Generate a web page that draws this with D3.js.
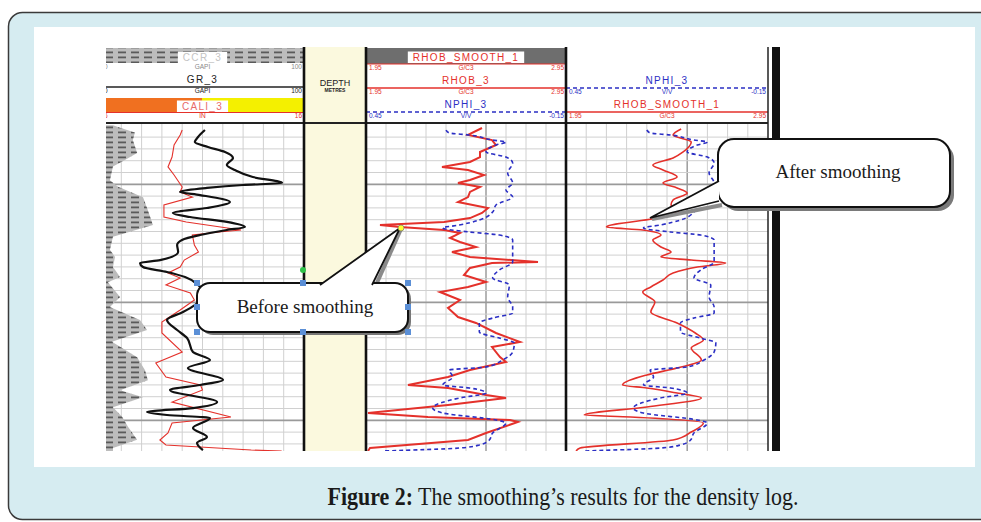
<!DOCTYPE html>
<html>
<head>
<meta charset="utf-8">
<script src="https://cdn.jsdelivr.net/npm/d3@7"></script>
<style>
  body { margin: 0; background: #fff; }
  svg { display: block; }
  text { font-family: "Liberation Sans", Arial, sans-serif; }
</style>
</head>
<body>
<div id="chart"></div>
<script>
// Log curves: [depth (m), value] pairs
var ccrCurve = [[1000, 5.9], [1000.2, 9.4], [1000.6, 16.7], [1001.25, 15.7], [1002.35, 17.8], [1002.95, 11.8], [1003.5, 5.9],
    [1004.65, 4.4], [1005.2, 8.4], [1006.1, 20.7], [1007.2, 23.1], [1008.45, 25.6], [1009.45, 5.9], [1010.55, 4.4],
    [1011.15, 6.9], [1012.0, 5.9], [1012.85, 9.4], [1013.3, 3.4], [1014.55, 9.4], [1015.4, 4.4], [1016.5, 19.2],
    [1017.35, 22.7], [1018.35, 5.4], [1019.65, 17.8], [1020.75, 21.7], [1021.6, 23.1], [1022.45, 9.4], [1023.05, 20.7],
    [1023.9, 5.9], [1024.7, 10.4], [1025.55, 13.3], [1026.65, 17.8], [1027.35, 5.9], [1027.6, 5.9]];

var grCurve = [[1000.4, 51.2], [1000.99, 47.8], [1001.42, 46.2], [1001.84, 52.7], [1002.26, 61.1], [1002.77, 65], [1003.36, 62],
    [1003.79, 66], [1004.38, 74.8], [1004.89, 89.2], [1005.06, 70], [1005.31, 52.2], [1005.65, 38.9], [1005.91, 48.8],
    [1006.5, 63.5], [1007.01, 52.2], [1007.43, 35.4], [1007.77, 43.8], [1008.19, 62], [1008.62, 70.9], [1008.87, 62],
    [1009.3, 48.8], [1009.72, 39.9], [1010.14, 37.5], [1010.74, 38], [1011.42, 29.1], [1011.67, 19.2], [1012.01, 20.7],
    [1012.43, 32.5], [1012.86, 41.4], [1013.53, 47.8], [1014.38, 51.2], [1015.23, 46.2], [1015.82, 40.4], [1016.5, 32.5],
    [1017.35, 37.5], [1018.03, 42.4], [1019.21, 45.3], [1019.89, 53.7], [1020.57, 42.8], [1021.58, 60.1], [1022.01, 48.8],
    [1022.43, 34], [1023.45, 57.2], [1023.96, 45.3], [1024.3, 22.7], [1024.55, 32.5], [1024.81, 53.7], [1025.65, 45.3],
    [1026.41, 52.2], [1026.92, 47.3], [1027.52, 50.2]];

var caliCurve = [[1000.4, 10.0], [1000.82, 9.9], [1001.67, 9.6], [1002.69, 9.5], [1003.53, 9.3], [1004.21, 9.6], [1005.23, 10.0],
    [1005.65, 9.9], [1006.08, 10.5], [1006.75, 9.1], [1007.77, 9.1], [1008.19, 10.2], [1008.87, 12.9], [1009.04, 11.8],
    [1009.3, 10.5], [1010.14, 10.6], [1010.74, 10.8], [1011.42, 10.1], [1012.01, 9.9], [1012.52, 9.3], [1012.94, 9.9],
    [1013.53, 9.2], [1014.21, 10.4], [1014.81, 10.6], [1015.65, 9.9], [1016.67, 9.0], [1017.6, 9.0], [1019.21, 10.0],
    [1020.14, 8.7], [1021.33, 9.2], [1022.01, 10.9], [1022.43, 11.0], [1023.45, 9.5], [1024.72, 12.4], [1025.23, 9.5],
    [1026.07, 9.3], [1026.67, 8.9], [1027.09, 9.2], [1027.52, 13.4], [1027.6, 14.9]];

var rhobRaw = [[1000.23, 2.53], [1000.82, 2.46], [1001.25, 2.58], [1001.67, 2.60], [1002.26, 2.52], [1002.69, 2.52], [1003.11, 2.47],
    [1003.53, 2.33], [1003.79, 2.46], [1004.21, 2.54], [1004.64, 2.47], [1004.89, 2.41], [1005.23, 2.52], [1005.65, 2.47],
    [1006.08, 2.46], [1006.5, 2.41], [1007.01, 2.56], [1007.43, 2.53], [1007.86, 2.47], [1008.19, 2.34], [1008.45, 2.02],
    [1008.62, 2.12], [1008.87, 2.34], [1009.13, 2.42], [1009.55, 2.37], [1009.89, 2.42], [1010.31, 2.50], [1010.74, 2.38],
    [1011.16, 2.47], [1011.58, 2.81], [1011.67, 2.58], [1012.09, 2.47], [1012.69, 2.44], [1013.28, 2.55], [1013.7, 2.46],
    [1014.13, 2.32], [1014.81, 2.42], [1015.48, 2.36], [1016.25, 2.41], [1016.75, 2.50], [1017.6, 2.60], [1018.36, 2.72],
    [1018.79, 2.58], [1019.64, 2.62], [1020.06, 2.65], [1020.74, 2.47], [1021.33, 2.36], [1022.01, 2.16], [1022.26, 2.36],
    [1022.86, 2.55], [1023.11, 2.65], [1023.7, 2.36], [1024.38, 1.96], [1024.72, 2.26], [1024.97, 2.67], [1025.14, 2.71],
    [1026.07, 2.55], [1026.67, 2.46], [1027.35, 1.97], [1027.6, 1.96]];

var rhobSmooth = [[1000.31, 2.52], [1000.82, 2.48], [1001.42, 2.57], [1002.26, 2.53], [1002.77, 2.48], [1003.36, 2.38], [1003.79, 2.43],
    [1004.38, 2.50], [1004.89, 2.43], [1005.31, 2.50], [1005.74, 2.55], [1006.33, 2.48], [1006.75, 2.47], [1007.18, 2.51],
    [1007.77, 2.43], [1008.62, 2.15], [1008.87, 2.33], [1009.3, 2.42], [1009.72, 2.38], [1010.31, 2.42], [1010.74, 2.47],
    [1011.16, 2.42], [1011.42, 2.57], [1011.67, 2.74], [1012.01, 2.60], [1012.52, 2.48], [1013.11, 2.43], [1013.7, 2.37],
    [1014.13, 2.33], [1014.97, 2.39], [1015.82, 2.37], [1016.75, 2.50], [1017.6, 2.59], [1018.19, 2.63], [1018.87, 2.57],
    [1019.89, 2.62], [1020.57, 2.50], [1021.16, 2.35], [1022.01, 2.23], [1022.26, 2.35], [1022.69, 2.50], [1023.11, 2.62],
    [1023.87, 2.35], [1024.55, 2.04], [1024.72, 2.27], [1025.23, 2.63], [1025.99, 2.57], [1026.67, 2.48], [1027.35, 2.02],
    [1027.6, 2.00]];

var nphiCurve = [[1000.4, 0.21], [1000.65, 0.20], [1000.82, 0.14], [1001.25, 0.07], [1001.42, 0.03], [1001.67, 0.06], [1002.26, 0.09],
    [1002.69, 0.03], [1003.19, 0.01], [1004.04, 0.025], [1004.89, 0.01], [1005.48, 0.03], [1006.08, 0.01], [1006.75, 0.06],
    [1007.35, 0.07], [1008.03, 0.11], [1008.45, 0.17], [1008.7, 0.22], [1009.04, 0.14], [1009.3, 0.05], [1009.72, 0.01],
    [1010.57, 0.01], [1011.58, 0.01], [1012.26, 0.05], [1012.94, 0.07], [1013.53, 0.02], [1014.55, 0.025], [1015.4, 0.01],
    [1015.91, 0.01], [1016.33, 0.07], [1016.75, 0.11], [1017.52, 0.11], [1018.03, 0.05], [1018.45, 0.005], [1019.21, 0.01],
    [1019.89, 0.04], [1020.48, 0.09], [1020.74, 0.20], [1021.33, 0.19], [1022.01, 0.22], [1022.26, 0.14], [1022.69, 0.09],
    [1023.11, 0.17], [1023.96, 0.25], [1024.38, 0.22], [1024.97, 0.06], [1025.23, 0.03], [1026.07, 0.07], [1026.67, 0.08],
    [1027.09, 0.11], [1027.35, 0.17], [1027.6, 0.40]];

// Header labels
var grScale = ['0', 'GAPI', '100'];
var caliScale = ['6', 'IN', '16'];
var rhobScale = ['1.95', 'G/C3', '2.95'];
var nphiScale = ['0.45', 'V/V', '-0.15'];
var depthTitle = ['DEPTH', 'METRES'];
var notes = ['Before smoothing', 'After smoothing'];
var caption = ['Figure 2:', ' The smoothing\u2019s results for the density log.'];

var width = 981, height = 522;
var red = '#e4312b', blue = '#2b2fc4';

var svg = d3.select('#chart').append('svg')
    .attr('width', width)
    .attr('height', height);

var defs = svg.append('defs');

// dashed grey shading used by CCR
var pat = defs.append('pattern')
    .attr('id', 'ccrFill')
    .attr('patternUnits', 'userSpaceOnUse')
    .attr('width', 13).attr('height', 5);
pat.append('rect').attr('width', 13).attr('height', 5).attr('fill', '#bcbcbc');
pat.append('rect').attr('x', 1).attr('y', 1.5).attr('width', 8).attr('height', 1.8).attr('fill', '#5a5a5a');

// Page frame
svg.append('rect')
    .attr('x', 8.5).attr('y', 12.5)
    .attr('width', 1000).attr('height', 507)
    .attr('rx', 14)
    .attr('fill', '#d6ecf1')
    .attr('stroke', '#3a3a3a')
    .attr('stroke-width', 1.5);

svg.append('rect')
    .attr('x', 34).attr('y', 27)
    .attr('width', 941).attr('height', 440)
    .attr('fill', '#fff');

// Track layout
var t1 = [101, 304], tDepth = [304, 366], t3 = [366, 566], t4 = [566, 768];
var headTop = 47, bodyBottom = 451;

var y = d3.scaleLinear().domain([1000, 1027.6]).range([125.3, bodyBottom]);

var grX = d3.scaleLinear().domain([0, 100]).range(t1);
var caliX = d3.scaleLinear().domain([6, 16]).range(t1);
var rhobX3 = d3.scaleLinear().domain([1.95, 2.95]).range(t3);
var nphiX3 = d3.scaleLinear().domain([0.45, -0.15]).range(t3);
var rhobX4 = d3.scaleLinear().domain([1.95, 2.95]).range(t4);
var nphiX4 = d3.scaleLinear().domain([0.45, -0.15]).range(t4);

var log = svg.append('g');
defs.append('clipPath').attr('id', 'logClip').append('rect')
    .attr('x', 106).attr('y', 40).attr('width', 676).attr('height', 412);
log.attr('clip-path', 'url(#logClip)');

// depth track background
log.append('rect')
    .attr('x', tDepth[0]).attr('y', headTop)
    .attr('width', tDepth[1] - tDepth[0]).attr('height', bodyBottom - headTop)
    .attr('fill', '#fbf9de');

// Grid for a track
function drawGrid(x0, x1, markSix) {
    var g = log.append('g');
    var gx = d3.scaleLinear().domain([0, 10]).range([x0, x1]);
    g.selectAll('line.v').data(d3.range(1, 10)).enter().append('line')
        .attr('x1', gx).attr('x2', gx)
        .attr('y1', 124).attr('y2', bodyBottom)
        .attr('stroke', (d) => (markSix && d === 6) ? '#9c9c9c' : '#d0d0d0')
        .attr('stroke-width', (d) => (markSix && d === 6) ? 1.5 : 1);
    g.selectAll('line.h').data(d3.range(1001, 1028)).enter().append('line')
        .attr('x1', x0).attr('x2', x1)
        .attr('y1', y).attr('y2', y)
        .attr('stroke', (d) => d % 10 === 5 ? '#9a9a9a' : '#d0d0d0')
        .attr('stroke-width', (d) => d % 10 === 5 ? 1.8 : 1);
}
drawGrid(t1[0], t1[1], false);
drawGrid(t3[0], t3[1], true);
drawGrid(t4[0], t4[1], true);

function trackClip(id, xr) {
    defs.append('clipPath').attr('id', id).append('rect')
        .attr('x', xr[0]).attr('y', 124)
        .attr('width', xr[1] - xr[0]).attr('height', bodyBottom - 124);
    return log.append('g').attr('clip-path', 'url(#' + id + ')');
}

function logLine(xs, curve) {
    return d3.line()
        .x((d) => xs(d[1]))
        .y((d) => y(d[0]))
        .curve(curve);
}

// Track 1: CCR shading, CALI, GR
var g1 = trackClip('c1', t1);
g1.append('path').datum(ccrCurve)
    .attr('d', d3.area().y((d) => y(d[0])).x0(grX(0)).x1((d) => grX(d[1])))
    .attr('fill', 'url(#ccrFill)');
g1.append('path').datum(caliCurve)
    .attr('d', logLine(caliX, d3.curveLinear))
    .attr('fill', 'none').attr('stroke', red).attr('stroke-width', 1.1);
g1.append('path').datum(grCurve)
    .attr('d', logLine(grX, d3.curveMonotoneY))
    .attr('fill', 'none').attr('stroke', '#111').attr('stroke-width', 2.2);

// Track 3: raw density and neutron
var g3 = trackClip('c3', t3);
g3.append('path').datum(rhobRaw)
    .attr('d', logLine(rhobX3, d3.curveLinear))
    .attr('fill', 'none').attr('stroke', red).attr('stroke-width', 2);
g3.append('path').datum(nphiCurve)
    .attr('d', logLine(nphiX3, d3.curveMonotoneY))
    .attr('fill', 'none').attr('stroke', blue).attr('stroke-width', 1.6)
    .attr('stroke-dasharray', '4,3');

// Track 4: smoothed density and neutron
var g4 = trackClip('c4', t4);
g4.append('path').datum(rhobSmooth)
    .attr('d', logLine(rhobX4, d3.curveMonotoneY))
    .attr('fill', 'none').attr('stroke', red).attr('stroke-width', 1.6);
g4.append('path').datum(nphiCurve)
    .attr('d', logLine(nphiX4, d3.curveMonotoneY))
    .attr('fill', 'none').attr('stroke', blue).attr('stroke-width', 1.6)
    .attr('stroke-dasharray', '4,3');

// ---- Header ----
function scaleRow(xr, yy, labels, color) {
    var anchors = ['start', 'middle', 'end'];
    var xs = [xr[0] + 3, (xr[0] + xr[1]) / 2, xr[1] - 2];
    labels.forEach(function(t, i) {
        log.append('text')
            .attr('x', xs[i]).attr('y', yy)
            .attr('text-anchor', anchors[i])
            .style('font-size', '6.5px')
            .attr('fill', color)
            .text(t);
    });
}

function label(xr, yy, name, color, boxed) {
    var cx = (xr[0] + xr[1]) / 2;
    var box = boxed ? log.append('rect') : null;
    var t = log.append('text')
        .attr('x', cx).attr('y', yy)
        .attr('text-anchor', 'middle')
        .style('font-size', '10px')
        .style('letter-spacing', '1.3px')
        .attr('fill', color)
        .text(name);
    if (box) {
        var w = t.node().getComputedTextLength() + 10;
        box.attr('x', cx - w / 2).attr('y', yy - 9).attr('width', w).attr('height', 11.5).attr('fill', '#fff');
    }
}

function curveRow(xr, yLine, name, color, dash, labels) {
    label(xr, yLine - 4, name, color, false);
    log.append('line')
        .attr('x1', xr[0]).attr('x2', xr[1])
        .attr('y1', yLine).attr('y2', yLine)
        .attr('stroke', color).attr('stroke-width', 1.3)
        .attr('stroke-dasharray', dash);
    scaleRow(xr, yLine + 6, labels, color);
}

// Track 1 header
log.append('rect').attr('x', t1[0]).attr('y', 48).attr('width', t1[1] - t1[0]).attr('height', 15).attr('fill', 'url(#ccrFill)');
label(t1, 61, 'CCR_3', '#c4c4c4', true);
scaleRow(t1, 69, grScale, '#888');
curveRow(t1, 87, 'GR_3', '#222', null, grScale);
log.append('rect').attr('x', t1[0]).attr('y', 98).attr('width', 101).attr('height', 14).attr('fill', '#f07020');
log.append('rect').attr('x', t1[0] + 101).attr('y', 98).attr('width', t1[1] - t1[0] - 101).attr('height', 14).attr('fill', '#f4f000');
label(t1, 109.5, 'CALI_3', '#e86a6a', true);
log.append('line').attr('x1', t1[0]).attr('x2', t1[1]).attr('y1', 112.5).attr('y2', 112.5).attr('stroke', red);
scaleRow(t1, 118, caliScale, red);

// Track 3 header
log.append('rect').attr('x', t3[0]).attr('y', 48).attr('width', t3[1] - t3[0]).attr('height', 16).attr('fill', '#6e6e6e');
label(t3, 60.5, 'RHOB_SMOOTH_1', red, true);
log.append('line').attr('x1', t3[0]).attr('x2', t3[1]).attr('y1', 64).attr('y2', 64).attr('stroke', red);
scaleRow(t3, 70, rhobScale, red);
curveRow(t3, 88, 'RHOB_3', red, null, rhobScale);
curveRow(t3, 112, 'NPHI_3', blue, '4,3', nphiScale);

// Track 4 header
curveRow(t4, 88, 'NPHI_3', blue, '4,3', nphiScale);
curveRow(t4, 112, 'RHOB_SMOOTH_1', red, null, rhobScale);

// depth title
log.append('text').attr('x', 335).attr('y', 86).attr('text-anchor', 'middle')
    .style('font-size', '9px').attr('fill', '#222').text(depthTitle[0]);
log.append('text').attr('x', 335).attr('y', 92).attr('text-anchor', 'middle')
    .style('font-size', '5px').style('font-weight', 'bold').attr('fill', '#222').text(depthTitle[1]);

// header base and borders
log.append('line').attr('x1', t1[0]).attr('x2', t4[1]).attr('y1', 123).attr('y2', 123)
    .attr('stroke', '#222').attr('stroke-width', 2);
[304, 366, 566].forEach(function(x) {
    log.append('line').attr('x1', x).attr('x2', x).attr('y1', headTop).attr('y2', bodyBottom)
        .attr('stroke', '#111').attr('stroke-width', 2.6);
});
log.append('line').attr('x1', 768).attr('x2', 768).attr('y1', headTop).attr('y2', bodyBottom)
    .attr('stroke', '#222').attr('stroke-width', 1.5);
log.append('rect').attr('x', 772).attr('y', headTop).attr('width', 8).attr('height', bodyBottom - headTop)
    .attr('fill', '#111');

// ---- Callouts ----
var serif = '"Liberation Serif", "Times New Roman", serif';

// Before smoothing
svg.append('rect').attr('x', 200).attr('y', 286).attr('width', 211).attr('height', 49).attr('rx', 13)
    .attr('fill', '#777');
svg.append('line').attr('x1', 401).attr('y1', 229).attr('x2', 376).attr('y2', 285)
    .attr('stroke', '#8a8a8a').attr('stroke-width', 4);
svg.append('rect').attr('x', 197).attr('y', 283).attr('width', 211).attr('height', 49).attr('rx', 13)
    .attr('fill', '#fff').attr('stroke', '#111').attr('stroke-width', 2);
svg.append('path').attr('d', 'M320,285 L400,228 L372,285')
    .attr('fill', '#fff').attr('stroke', '#111').attr('stroke-width', 1.8);
svg.append('text').attr('x', 305).attr('y', 313).attr('text-anchor', 'middle')
    .style('font-family', serif).style('font-size', '19px').attr('fill', '#1a1a1a')
    .text(notes[0]);

// selection handles
[[197, 283], [303, 283], [408, 283], [197, 307], [408, 307], [197, 332], [303, 332], [408, 332]].forEach(function(p) {
    svg.append('rect').attr('x', p[0] - 3).attr('y', p[1] - 3).attr('width', 6).attr('height', 6)
        .attr('fill', '#5b8fd6');
});
svg.append('circle').attr('cx', 303).attr('cy', 270).attr('r', 3).attr('fill', '#2fc34a');
svg.append('circle').attr('cx', 401).attr('cy', 228).attr('r', 3).attr('fill', '#ffff33')
    .attr('stroke', '#666').attr('stroke-width', 0.6);

// After smoothing
svg.append('rect').attr('x', 722).attr('y', 143).attr('width', 232).attr('height', 68).attr('rx', 16)
    .attr('fill', '#7a7a7a');
svg.append('line').attr('x1', 652).attr('y1', 219).attr('x2', 722).attr('y2', 205)
    .attr('stroke', '#8a8a8a').attr('stroke-width', 4);
svg.append('rect').attr('x', 718).attr('y', 139).attr('width', 232).attr('height', 68).attr('rx', 16)
    .attr('fill', '#fff').attr('stroke', '#111').attr('stroke-width', 2);
svg.append('path').attr('d', 'M719,181 L650,218 L719,201')
    .attr('fill', '#fff').attr('stroke', '#111').attr('stroke-width', 1.8);
svg.append('text').attr('x', 838).attr('y', 178).attr('text-anchor', 'middle')
    .style('font-family', serif).style('font-size', '19px').attr('fill', '#1a1a1a')
    .text(notes[1]);

// ---- Caption ----
var cap = svg.append('text')
    .attr('transform', 'translate(563,505) scale(0.86,1)')
    .attr('text-anchor', 'middle')
    .style('font-family', serif)
    .style('font-size', '25.5px')
    .attr('fill', '#1a1a1a');
cap.append('tspan').style('font-weight', 'bold').text(caption[0]);
cap.append('tspan').text(caption[1]);
</script>
</body>
</html>
